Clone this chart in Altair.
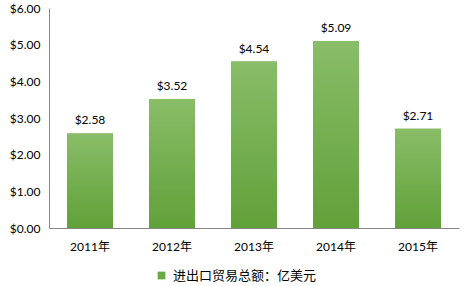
import altair as alt
import pandas as pd

years = ["2011年", "2012年", "2013年", "2014年", "2015年"]
values = [2.58, 3.52, 4.54, 5.09, 2.71]
series = ["进出口贸易总额：亿美元"] * 5

df = pd.DataFrame({"year": years, "value": values, "series": series})

FONT = "Lato, Noto Sans CJK SC, sans-serif"

x = alt.X("year:N", sort=years, title=None,
          scale=alt.Scale(paddingInner=0.44, paddingOuter=0.22),
          axis=alt.Axis(labelAngle=0, ticks=False, domainColor="#868686",
                        labelFontSize=12, labelColor="#000000", labelPadding=13,
                        labelFont=FONT, grid=False))
y = alt.Y("value:Q", title=None,
          scale=alt.Scale(domain=[0, 6], nice=False),
          axis=alt.Axis(values=[0, 1, 2, 3, 4, 5, 6], format="$.2f", ticks=False,
                        domainColor="#868686", grid=False, labelFontSize=12,
                        labelColor="#000000", labelPadding=9, labelFont=FONT))

base = alt.Chart(df)

legend_bars = base.mark_bar().encode(
    x=x, y=y,
    color=alt.Color("series:N", title=None,
                    scale=alt.Scale(range=["#6aa842"]),
                    legend=alt.Legend(orient="none", legendX=106, legendY=261,
                                      symbolType="square", symbolSize=60,
                                      labelFontSize=13, labelFont=FONT,
                                      labelColor="#000000", labelOffset=5,
                                      symbolStrokeWidth=0)),
)

grad_bars = base.mark_bar(
    color=alt.Gradient(gradient="linear",
                       stops=[alt.GradientStop(color="#89bd68", offset=0),
                              alt.GradientStop(color="#61a139", offset=1)],
                       x1=0, x2=0, y1=0, y2=1)
).encode(x=x, y=y)

labels = base.mark_text(dy=-13, fontSize=12, font=FONT, color="#000000").encode(
    x=x, y=y, text=alt.Text("value:Q", format="$.2f"))

chart = alt.layer(legend_bars, grad_bars, labels).properties(
    width=410, height=220,
    autosize=alt.AutoSizeParams(type="none"),
    padding={"left": 49, "top": 8, "right": 7, "bottom": 58},
).configure_view(stroke=None)

chart.save("out.html", embed_options={"renderer": "svg", "actions": False})
